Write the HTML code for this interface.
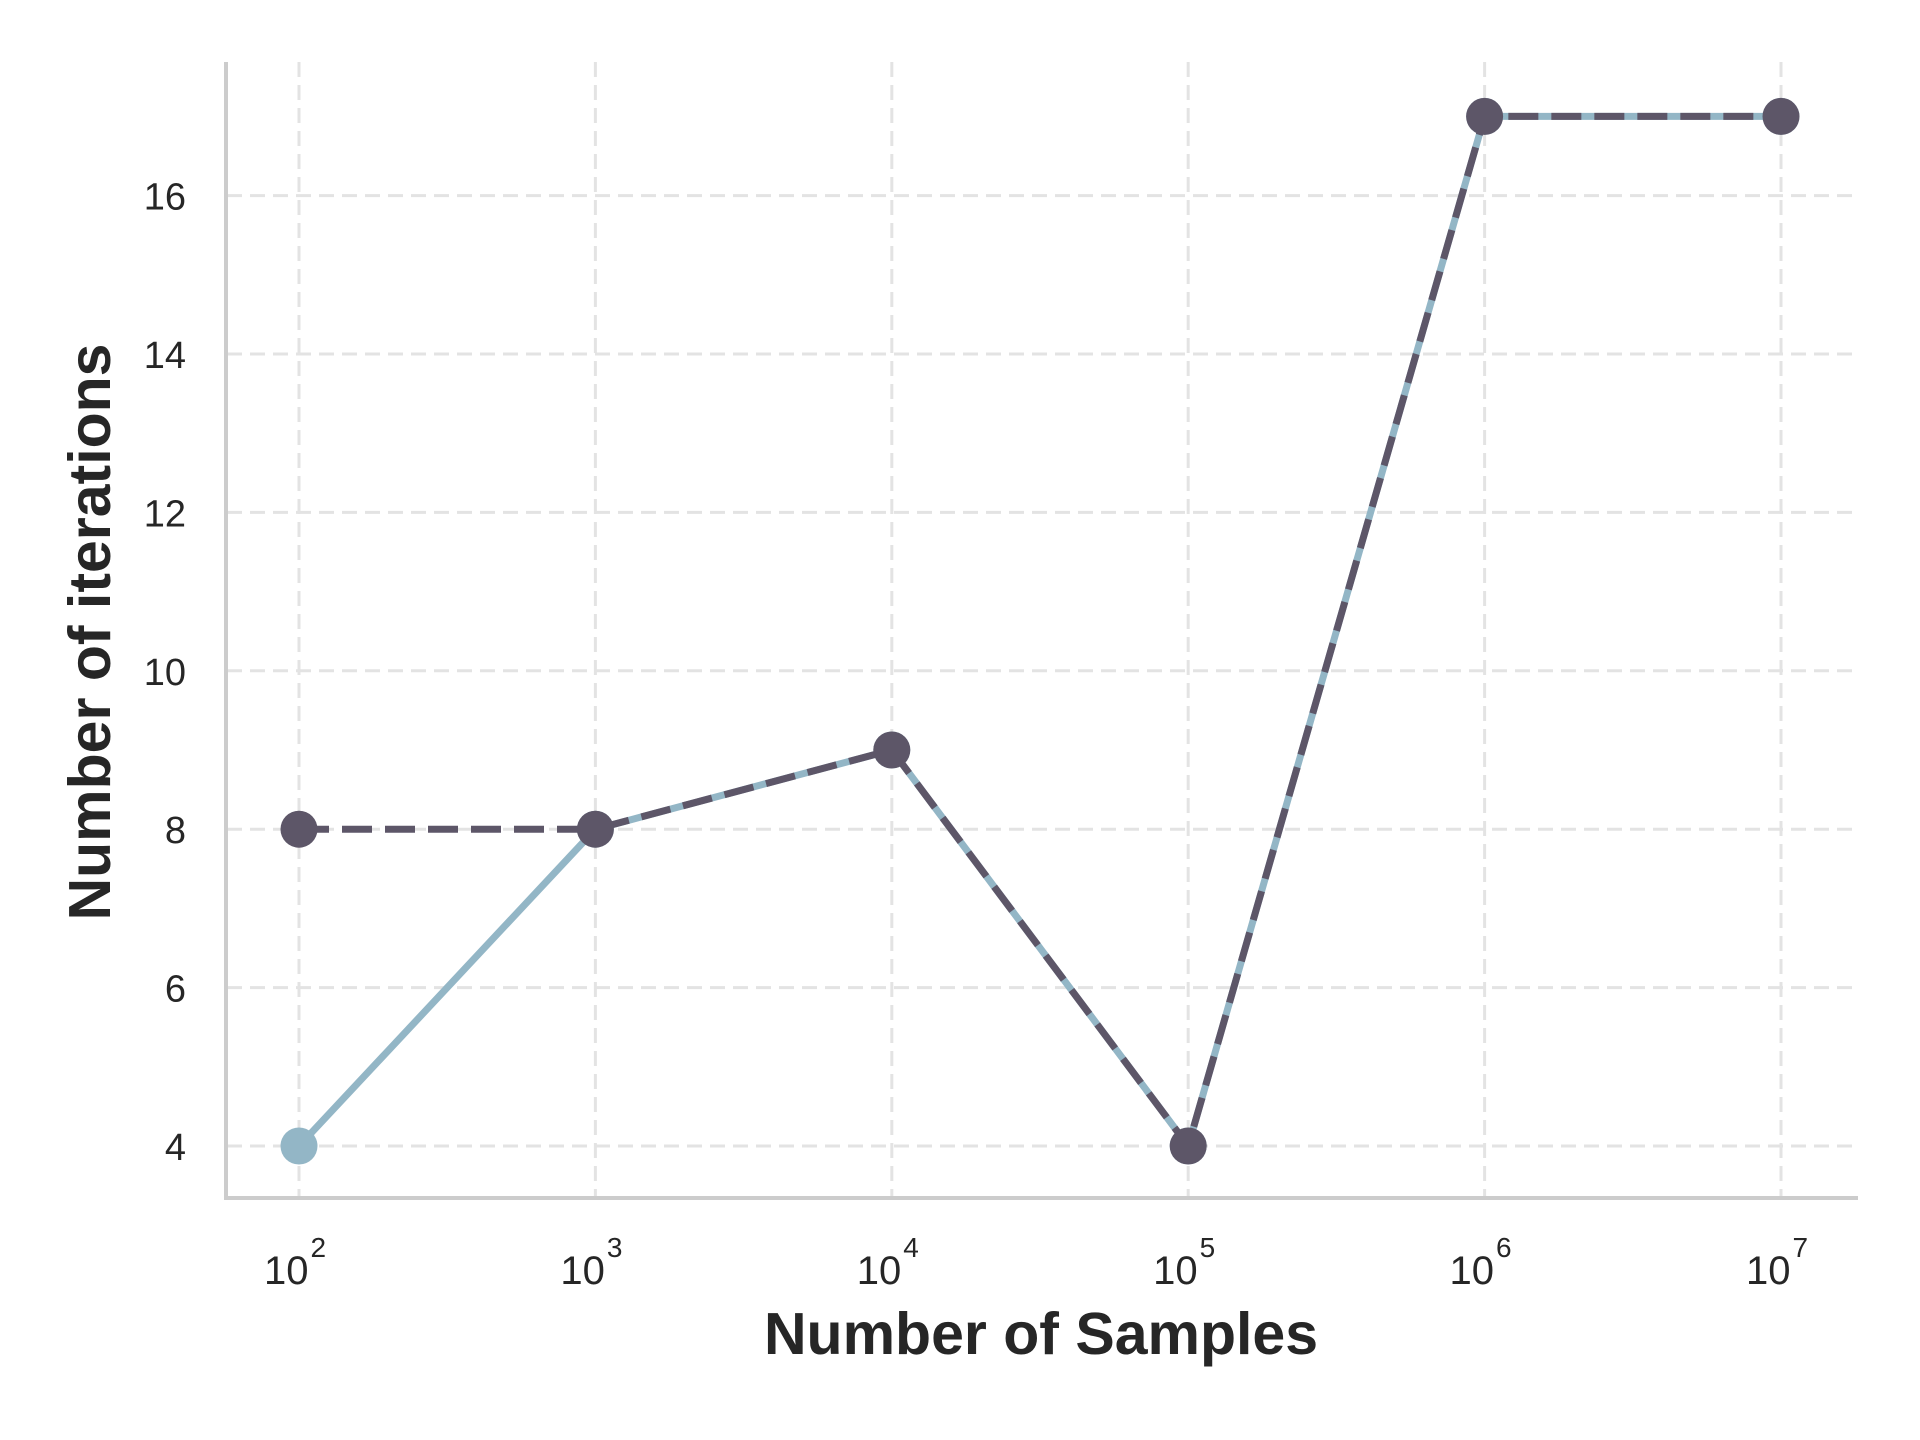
<!DOCTYPE html>
<html><head><meta charset="utf-8"><style>body{margin:0;background:#fff}svg{display:block}</style></head>
<body>
<svg id="chart" width="1920" height="1440" viewBox="0 0 1920 1440" xmlns="http://www.w3.org/2000/svg" font-family="Liberation Sans, sans-serif">
<g id="grid"></g>
<g id="axes"></g>
<g id="series"></g>
<text x="1041" y="1354" font-size="59" font-weight="bold" text-anchor="middle" fill="#262626">Number of Samples</text>
<text transform="translate(110,632) rotate(-90)" font-size="59" font-weight="bold" text-anchor="middle" fill="#262626">Number of iterations</text>
</svg>
<script>
const exponents = [2,3,4,5,6,7];
const seriesA = [4,8,9,4,17,17];
const seriesB = [8,8,9,4,17,17];
const yTicks = [4,6,8,10,12,14,16];
const NS='http://www.w3.org/2000/svg';
function xs(e){return 299+(e-2)*296.4;}
function ys(v){return 1146-(v-4)*79.2;}
function mk(t,a,p){const e=document.createElementNS(NS,t);for(const k in a)e.setAttribute(k,a[k]);p.appendChild(e);return e;}
const grid=document.getElementById('grid'),axes=document.getElementById('axes'),ser=document.getElementById('series');
exponents.forEach(e=>{
  const l=mk('line',{x1:xs(e),x2:xs(e),y1:62,y2:1198,stroke:'#e3e3e3','stroke-width':3,'stroke-dasharray':'15 8'},grid);
  
  
  const t=mk('text',{x:xs(e)-4,y:1284,'font-size':40,'text-anchor':'middle',fill:'#262626'},axes);
  
  
  t.textContent='10';
  const s=mk('tspan',{dy:-27,'font-size':28,dx:2},t);s.textContent=String(e);
});
yTicks.forEach(v=>{
  const l=mk('line',{x1:227,x2:1858,y1:ys(v),y2:ys(v),stroke:'#e3e3e3','stroke-width':3,'stroke-dasharray':'15 8'},grid);
  
  
  const t=mk('text',{x:186,y:ys(v)+14,'font-size':38,'text-anchor':'end',fill:'#262626'},axes);
  
  
  t.textContent=String(v);
});
const sp1=mk('line',{x1:226,x2:226,y1:62,y2:1200,stroke:'#cccccc','stroke-width':4},axes);


const sp2=mk('line',{x1:224,x2:1858,y1:1198,y2:1198,stroke:'#cccccc','stroke-width':4},axes);


function draw(vals,color,dash,name){
  const pts=vals.map((v,i)=>xs(exponents[i])+','+ys(v)).join(' ');
  const a={points:pts,fill:'none',stroke:color,'stroke-width':7,'stroke-linejoin':'round'};
  if(dash)a['stroke-dasharray']=dash;
  const pl=mk('polyline',a,ser);
  
  
  vals.forEach((v,i)=>{
    const c=mk('circle',{cx:xs(exponents[i]),cy:ys(v),r:18.5,fill:color},ser);
    
    
  });
}
draw(seriesA,'#93b6c6',null,'series-a');
draw(seriesB,'#5d5668','30 13','series-b');
</script>
</body></html>
